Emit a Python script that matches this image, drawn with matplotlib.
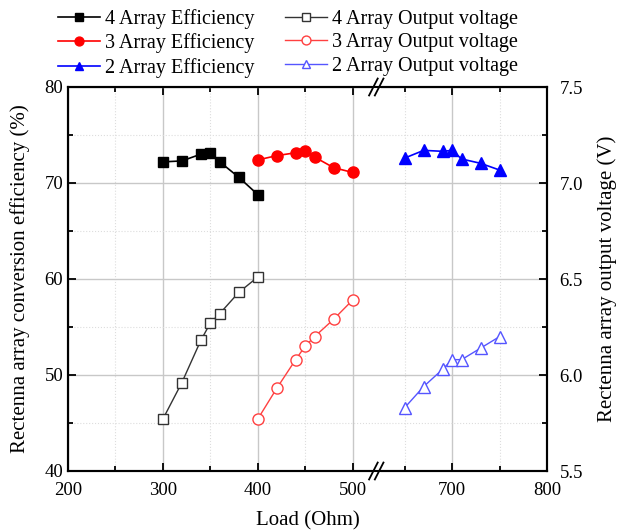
import numpy as np
import matplotlib
matplotlib.use("Agg")
import matplotlib.pyplot as plt
from matplotlib.ticker import FixedLocator, MultipleLocator

plt.rcParams['font.family'] = ['Liberation Serif', 'DejaVu Serif']
plt.rcParams['mathtext.fontset'] = 'stix'

# ---------------- data ----------------
load4 = [300, 320, 340, 350, 360, 380, 400]
eff4 = [72.2, 72.3, 73.0, 73.1, 72.2, 70.6, 68.8]
volt4 = [5.77, 5.96, 6.18, 6.27, 6.32, 6.43, 6.51]

load3 = [400, 420, 440, 450, 460, 480, 500]
eff3 = [72.4, 72.85, 73.15, 73.3, 72.7, 71.6, 71.1]
volt3 = [5.77, 5.93, 6.08, 6.15, 6.20, 6.29, 6.39]

load2 = [650, 670, 690, 700, 710, 730, 750]
eff2 = [72.6, 73.4, 73.3, 73.4, 72.5, 72.05, 71.35]
volt2 = [5.83, 5.94, 6.03, 6.08, 6.08, 6.14, 6.20]

xticks_major = [200, 300, 400, 500, 700, 800]
xticks_minor = [250, 350, 450, 650, 750]

# ---------------- broken x scale ----------------
BRK_LO, BRK_HI = 525.0, 620.0
GAP = BRK_HI - BRK_LO

def fwd(x):
    x = np.asarray(x, dtype=float)
    return np.where(x <= BRK_LO, x, np.where(x >= BRK_HI, x - GAP, BRK_LO))

def inv(y):
    y = np.asarray(y, dtype=float)
    return np.where(y <= BRK_LO, y, y + GAP)

fig = plt.figure(figsize=(6.17, 5.32), dpi=100)
ax = fig.add_axes([68/617, 1 - 471/532, (547 - 68)/617, (471 - 87)/532])
ax.set_xscale('function', functions=(fwd, inv))
ax.set_xlim(200, 800)
ax.set_ylim(40, 80)
ax2 = ax.twinx()
ax2.set_ylim(5.5, 7.5)

ax.xaxis.set_major_locator(FixedLocator(xticks_major))
ax.xaxis.set_minor_locator(FixedLocator(xticks_minor))
ax.set_xticklabels([str(v) for v in xticks_major])
ax.yaxis.set_major_locator(MultipleLocator(10))
ax.yaxis.set_minor_locator(MultipleLocator(5))
ax2.yaxis.set_major_locator(MultipleLocator(0.5))
ax2.yaxis.set_minor_locator(MultipleLocator(0.25))
ax2.yaxis.set_major_formatter(plt.FuncFormatter(lambda v, p: f"{v:.1f}"))

# grid
ax.grid(which='major', color='#c8c8c8', lw=1.0, ls='-')
ax.grid(which='minor', color='#dddddd', lw=0.8, ls=':')
ax.set_axisbelow(True)

fs_tick = 13.5
ax.tick_params(axis='both', which='both', direction='in', labelsize=fs_tick,
               top=True, bottom=True, left=True, right=False, width=1.3)
ax.tick_params(which='major', length=6)
ax.tick_params(which='minor', length=3.5)
ax.tick_params(axis='x', which='major', pad=8)
ax.tick_params(axis='y', which='major', pad=3.5)
ax2.tick_params(axis='y', which='both', direction='in', labelsize=fs_tick, width=1.3)
ax2.tick_params(which='major', length=6, pad=9)
ax2.tick_params(which='minor', length=3.5)
for a in (ax, ax2):
    for s in a.spines.values():
        s.set_linewidth(1.5)

fs_lab = 15
ax.set_xlabel('Load (Ohm)', fontsize=fs_lab, labelpad=9)
ax.set_ylabel('Rectenna array conversion efficiency (%)', fontsize=fs_lab, labelpad=10)
ax2.set_ylabel('Rectenna array output voltage (V)', fontsize=fs_lab, labelpad=10)

# efficiency series
h1, = ax.plot(load4, eff4, '-s', color='black', ms=7, lw=1.2, label='4 Array Efficiency')
h3, = ax.plot(load3, eff3, '-o', color='red', ms=8, lw=1.2, label='3 Array Efficiency')
h5, = ax.plot(load2, eff2, '-^', color='blue', ms=8, lw=1.2, label='2 Array Efficiency')

# voltage series
h2, = ax2.plot(load4, volt4, '-s', color='#333333', mfc='white', mec='#333333', ms=7, lw=1.0,
               label='4 Array Output voltage')
h4, = ax2.plot(load3, volt3, '-o', color='#ff4040', mfc='white', mec='#ff4040', ms=8, lw=1.0,
               label='3 Array Output voltage')
h6, = ax2.plot(load2, volt2, '-^', color='#5555ff', mfc='white', mec='#5555ff', ms=8, lw=1.0,
               label='2 Array Output voltage')

# break marks on bottom and top axes
bx = (fwd(BRK_LO) - fwd(200)) / (fwd(800) - fwd(200))
for yb in (0, 1):
    ax.plot([bx - 0.005, bx + 0.005], [yb, yb], transform=ax.transAxes,
            color='white', lw=3, clip_on=False, zorder=4)
    for dx in (-0.006, 0.006):
        ax.plot([bx + dx - 0.009, bx + dx + 0.009], [yb - 0.022, yb + 0.022],
                transform=ax.transAxes, color='black', lw=1.3, clip_on=False, zorder=5)

# legend (row-wise order: column-major fill)
fig.legend(handles=[h1, h3, h5, h2, h4, h6], loc='upper left',
           bbox_to_anchor=(50/617, 1 - 1/532), ncol=2, frameon=False,
           fontsize=14.5, handlelength=2.1, handletextpad=0.25, columnspacing=1.5,
           labelspacing=0.22, borderaxespad=0, markerscale=0.8)

fig.savefig('out.png', dpi=100)
